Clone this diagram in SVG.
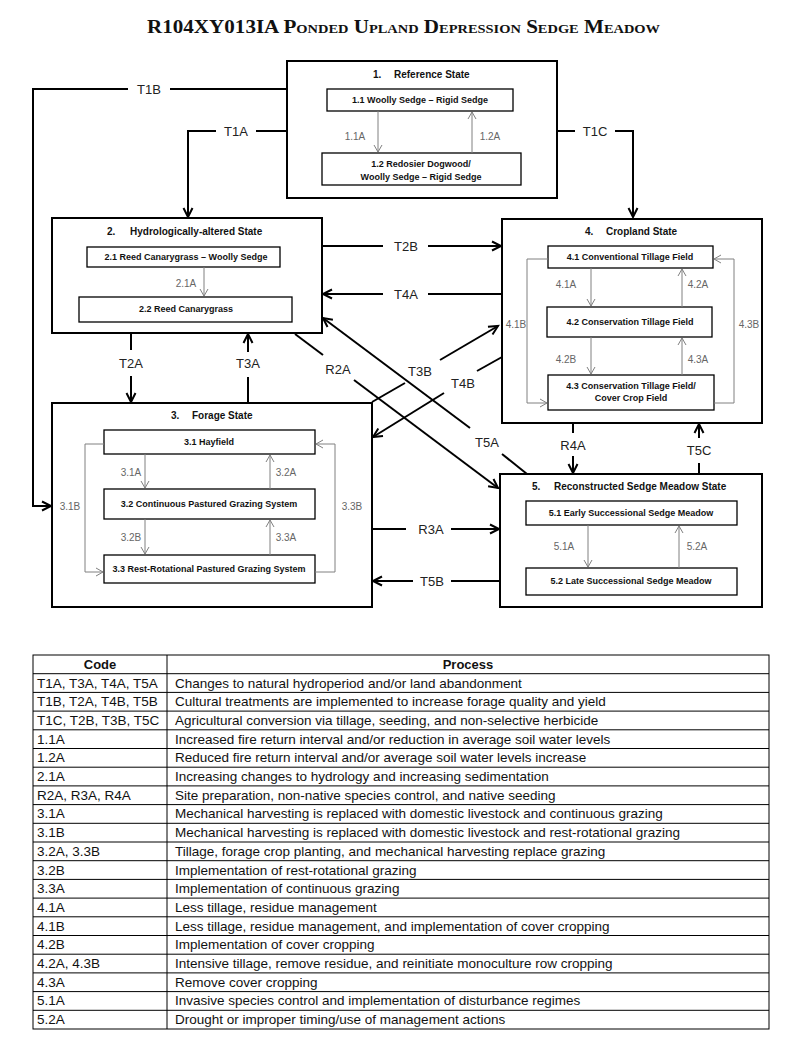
<svg xmlns="http://www.w3.org/2000/svg" width="800" height="1052" viewBox="0 0 800 1052">
<style>
.st{fill:#fff;stroke:#000;stroke-width:2}
.bx{fill:#fff;stroke:#000;stroke-width:1.3}
.cn{fill:none;stroke:#000;stroke-width:2}
.in{fill:none;stroke:#808080;stroke-width:1}
text{font-family:"Liberation Sans",Arial,sans-serif}
.tl{font-size:10px;font-weight:bold;fill:#111}
.bl{font-size:9px;font-weight:bold;text-anchor:middle;fill:#111}
.lb{font-size:13px;text-anchor:middle;fill:#222}
.il{font-size:10px;text-anchor:middle;fill:#666}
.tb{font-size:13.5px;fill:#111}
.th{font-size:13px;font-weight:bold;text-anchor:middle;fill:#111}
.tg{fill:none;stroke:#000;stroke-width:1}
</style>
<defs>
<marker id="ah" markerUnits="userSpaceOnUse" markerWidth="12" markerHeight="12" refX="10" refY="5" orient="auto" overflow="visible"><path d="M1,0.5 L10,5 L1,9.5" fill="none" stroke="#000" stroke-width="2"/></marker>
<marker id="gh" markerUnits="userSpaceOnUse" markerWidth="9" markerHeight="9" refX="7.5" refY="4" orient="auto" overflow="visible"><path d="M0.5,0 L7.5,4 L0.5,8" fill="none" stroke="#808080" stroke-width="1"/></marker>
</defs>
<rect width="800" height="1052" fill="#fff"/>
<text x="147" y="33" textLength="513" lengthAdjust="spacingAndGlyphs" style="font-family:'Liberation Serif','Times New Roman',serif;font-size:19px;font-weight:bold;font-variant:small-caps" fill="#111">R104XY013IA Ponded Upland Depression Sedge Meadow</text>

<g id="connectors">
<path class="cn" d="M287,89 H170"/>
<path class="cn" d="M128,89 H33 V506 H51" marker-end="url(#ah)"/>
<text class="lb" x="149" y="93.5">T1B</text>
<path class="cn" d="M287,131 H256"/>
<path class="cn" d="M216,131 H188 V217" marker-end="url(#ah)"/>
<text class="lb" x="236" y="135.5">T1A</text>
<path class="cn" d="M557,131 H575"/>
<path class="cn" d="M615,131 H633 V217" marker-end="url(#ah)"/>
<text class="lb" x="595" y="135.5">T1C</text>
<path class="cn" d="M322,246 H383"/>
<path class="cn" d="M428,246 H501" marker-end="url(#ah)"/>
<text class="lb" x="406" y="250.5">T2B</text>
<path class="cn" d="M502,294 H428"/>
<path class="cn" d="M383,294 H323" marker-end="url(#ah)"/>
<text class="lb" x="406" y="298.5">T4A</text>
<path class="cn" d="M131,333 V350"/>
<path class="cn" d="M131,376 V402" marker-end="url(#ah)"/>
<text class="lb" x="131" y="367.5">T2A</text>
<path class="cn" d="M248,403 V377"/>
<path class="cn" d="M248,352 V334" marker-end="url(#ah)"/>
<text class="lb" x="248" y="367.5">T3A</text>
<path class="cn" d="M295,334 L323,355"/>
<path class="cn" d="M354,380 L498,488" marker-end="url(#ah)"/>
<text class="lb" x="338" y="373.5">R2A</text>
<path class="cn" d="M527,474 L502,454"/>
<path class="cn" d="M470,428 L323,318" marker-end="url(#ah)"/>
<text class="lb" x="487" y="446.5">T5A</text>
<path class="cn" d="M372,402 L405,383"/>
<path class="cn" d="M440,360 L498,326" marker-end="url(#ah)"/>
<text class="lb" x="420" y="375.5">T3B</text>
<path class="cn" d="M502,357 L477,371"/>
<path class="cn" d="M444,393 L373,437" marker-end="url(#ah)"/>
<text class="lb" x="463" y="387.5">T4B</text>
<path class="cn" d="M573,423 V433"/>
<path class="cn" d="M573,456 V473" marker-end="url(#ah)"/>
<text class="lb" x="573" y="449.5">R4A</text>
<path class="cn" d="M699,474 V463"/>
<path class="cn" d="M699,438 V424" marker-end="url(#ah)"/>
<text class="lb" x="699" y="454.5">T5C</text>
<path class="cn" d="M372,529 H406"/>
<path class="cn" d="M451,529 H499" marker-end="url(#ah)"/>
<text class="lb" x="431" y="533.5">R3A</text>
<path class="cn" d="M500,581 H451"/>
<path class="cn" d="M413,581 H373" marker-end="url(#ah)"/>
<text class="lb" x="432" y="585.5">T5B</text>
</g>

<g id="state1">
<rect class="st" x="287" y="61" width="270" height="137"/>
<text class="tl" x="373" y="78">1.<tspan x="394">Reference State</tspan></text>
<rect class="bx" x="327" y="89" width="186" height="22"/>
<text class="bl" x="420" y="103">1.1 Woolly Sedge – Rigid Sedge</text>
<rect class="bx" x="322" y="153" width="199" height="32"/>
<text class="bl" x="421" y="167">1.2 Redosier Dogwood/</text>
<text class="bl" x="421" y="180">Woolly Sedge – Rigid Sedge</text>
<path class="in" d="M378,111 V152" marker-end="url(#gh)"/>
<path class="in" d="M472,153 V112" marker-end="url(#gh)"/>
<text class="il" x="355" y="140">1.1A</text>
<text class="il" x="490" y="140">1.2A</text>
</g>

<g id="state2">
<rect class="st" x="52" y="218" width="270" height="115"/>
<text class="tl" x="107" y="235">2.<tspan x="130">Hydrologically-altered State</tspan></text>
<rect class="bx" x="87" y="247" width="193" height="20"/>
<text class="bl" x="186" y="260">2.1  Reed Canarygrass – Woolly Sedge</text>
<rect class="bx" x="79" y="297" width="213" height="25"/>
<text class="bl" x="186" y="312">2.2  Reed Canarygrass</text>
<path class="in" d="M204,267 V296" marker-end="url(#gh)"/>
<text class="il" x="186" y="287">2.1A</text>
</g>

<g id="state3">
<rect class="st" x="52" y="403" width="320" height="204"/>
<text class="tl" x="171" y="419">3.<tspan x="192">Forage State</tspan></text>
<rect class="bx" x="104" y="430" width="211" height="24"/>
<text class="bl" x="209" y="445">3.1 Hayfield</text>
<rect class="bx" x="104" y="489" width="211" height="30"/>
<text class="bl" x="209" y="507">3.2 Continuous Pastured Grazing System</text>
<rect class="bx" x="104" y="555" width="211" height="28"/>
<text class="bl" x="209" y="572">3.3 Rest-Rotational Pastured Grazing System</text>
<path class="in" d="M145,454 V488" marker-end="url(#gh)"/>
<path class="in" d="M270,489 V455" marker-end="url(#gh)"/>
<path class="in" d="M145,519 V554" marker-end="url(#gh)"/>
<path class="in" d="M270,555 V520" marker-end="url(#gh)"/>
<path class="in" d="M104,444 H85 V572 H103" marker-end="url(#gh)"/>
<path class="in" d="M315,572 H335 V444 H316" marker-end="url(#gh)"/>
<text class="il" x="131" y="476">3.1A</text>
<text class="il" x="286" y="476">3.2A</text>
<text class="il" x="131" y="541">3.2B</text>
<text class="il" x="286" y="541">3.3A</text>
<text class="il" x="70" y="510">3.1B</text>
<text class="il" x="352" y="510">3.3B</text>
</g>

<g id="state4">
<rect class="st" x="502" y="219" width="260" height="204"/>
<text class="tl" x="585" y="235">4.<tspan x="606">Cropland State</tspan></text>
<rect class="bx" x="548" y="246" width="165" height="22"/>
<text class="bl" x="630" y="260">4.1 Conventional Tillage Field</text>
<rect class="bx" x="547" y="307" width="165" height="30"/>
<text class="bl" x="630" y="325">4.2 Conservation Tillage Field</text>
<rect class="bx" x="548" y="375" width="166" height="35"/>
<text class="bl" x="631" y="389">4.3 Conservation Tillage Field/</text>
<text class="bl" x="631" y="401">Cover Crop Field</text>
<path class="in" d="M591,268 V306" marker-end="url(#gh)"/>
<path class="in" d="M682,307 V269" marker-end="url(#gh)"/>
<path class="in" d="M591,337 V374" marker-end="url(#gh)"/>
<path class="in" d="M682,375 V338" marker-end="url(#gh)"/>
<path class="in" d="M548,259 H527 V403 H547" marker-end="url(#gh)"/>
<path class="in" d="M714,403 H734 V259 H714" marker-end="url(#gh)"/>
<text class="il" x="566" y="288">4.1A</text>
<text class="il" x="698" y="288">4.2A</text>
<text class="il" x="566" y="363">4.2B</text>
<text class="il" x="698" y="363">4.3A</text>
<text class="il" x="516" y="328">4.1B</text>
<text class="il" x="749" y="328">4.3B</text>
</g>

<g id="state5">
<rect class="st" x="500" y="474" width="262" height="133"/>
<text class="tl" x="532" y="490">5.<tspan x="554">Reconstructed Sedge Meadow State</tspan></text>
<rect class="bx" x="526" y="501" width="211" height="24"/>
<text class="bl" x="631" y="516">5.1 Early Successional Sedge Meadow</text>
<rect class="bx" x="526" y="568" width="211" height="27"/>
<text class="bl" x="631" y="584">5.2 Late Successional Sedge Meadow</text>
<path class="in" d="M588,525 V567" marker-end="url(#gh)"/>
<path class="in" d="M679,568 V526" marker-end="url(#gh)"/>
<text class="il" x="564" y="550">5.1A</text>
<text class="il" x="697" y="550">5.2A</text>
</g>

<g id="table">
<rect class="tg" x="33" y="655" width="736" height="374"/>
<path class="tg" d="M167,655 V1029"/>
<path class="tg" d="M33,673.7 H769 M33,692.4 H769 M33,711.1 H769 M33,729.8 H769 M33,748.5 H769 M33,767.2 H769 M33,785.9 H769 M33,804.6 H769 M33,823.3 H769 M33,842 H769 M33,860.7 H769 M33,879.4 H769 M33,898.1 H769 M33,916.8 H769 M33,935.5 H769 M33,954.2 H769 M33,972.9 H769 M33,991.6 H769 M33,1010.3 H769"/>
<text class="th" x="100" y="668.5">Code</text>
<text class="th" x="468" y="668.5">Process</text>
<text class="tb" x="37" y="687.5">T1A, T3A, T4A, T5A</text><text class="tb" x="175" y="687.5">Changes to natural hydroperiod and/or land abandonment</text>
<text class="tb" x="37" y="706.2">T1B, T2A, T4B, T5B</text><text class="tb" x="175" y="706.2">Cultural treatments are implemented to increase forage quality and yield</text>
<text class="tb" x="37" y="724.9">T1C, T2B, T3B, T5C</text><text class="tb" x="175" y="724.9">Agricultural conversion via tillage, seeding, and non-selective herbicide</text>
<text class="tb" x="37" y="743.6">1.1A</text><text class="tb" x="175" y="743.6">Increased fire return interval and/or reduction in average soil water levels</text>
<text class="tb" x="37" y="762.3">1.2A</text><text class="tb" x="175" y="762.3">Reduced fire return interval and/or average soil water levels increase</text>
<text class="tb" x="37" y="781">2.1A</text><text class="tb" x="175" y="781">Increasing changes to hydrology and increasing sedimentation</text>
<text class="tb" x="37" y="799.7">R2A, R3A, R4A</text><text class="tb" x="175" y="799.7">Site preparation, non-native species control, and native seeding</text>
<text class="tb" x="37" y="818.4">3.1A</text><text class="tb" x="175" y="818.4">Mechanical harvesting is replaced with domestic livestock and continuous grazing</text>
<text class="tb" x="37" y="837.1">3.1B</text><text class="tb" x="175" y="837.1">Mechanical harvesting is replaced with domestic livestock and rest-rotational grazing</text>
<text class="tb" x="37" y="855.8">3.2A, 3.3B</text><text class="tb" x="175" y="855.8">Tillage, forage crop planting, and mechanical harvesting replace grazing</text>
<text class="tb" x="37" y="874.5">3.2B</text><text class="tb" x="175" y="874.5">Implementation of rest-rotational grazing</text>
<text class="tb" x="37" y="893.2">3.3A</text><text class="tb" x="175" y="893.2">Implementation of continuous grazing</text>
<text class="tb" x="37" y="911.9">4.1A</text><text class="tb" x="175" y="911.9">Less tillage, residue management</text>
<text class="tb" x="37" y="930.6">4.1B</text><text class="tb" x="175" y="930.6">Less tillage, residue management, and implementation of cover cropping</text>
<text class="tb" x="37" y="949.3">4.2B</text><text class="tb" x="175" y="949.3">Implementation of cover cropping</text>
<text class="tb" x="37" y="968">4.2A, 4.3B</text><text class="tb" x="175" y="968">Intensive tillage, remove residue, and reinitiate monoculture row cropping</text>
<text class="tb" x="37" y="986.7">4.3A</text><text class="tb" x="175" y="986.7">Remove cover cropping</text>
<text class="tb" x="37" y="1005.4">5.1A</text><text class="tb" x="175" y="1005.4">Invasive species control and implementation of disturbance regimes</text>
<text class="tb" x="37" y="1024.1">5.2A</text><text class="tb" x="175" y="1024.1">Drought or improper timing/use of management actions</text>
</g>
</svg>
